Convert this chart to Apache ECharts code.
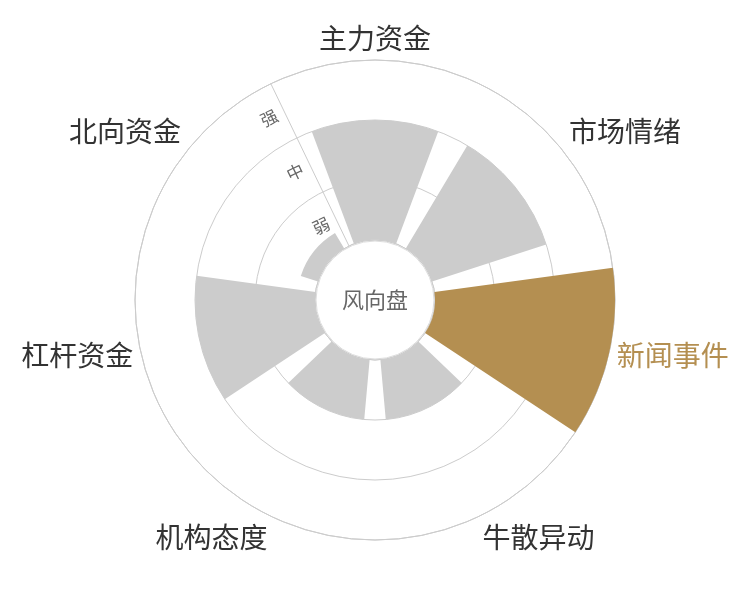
<!DOCTYPE html>
<html>
<head>
<meta charset="utf-8">
<script src="https://cdn.jsdelivr.net/npm/echarts@6/dist/echarts.min.js"></script>
<style>html,body{margin:0;padding:0;background:#fff}#c{width:750px;height:600px}</style>
</head>
<body>
<div id="c"></div>
<script>
var categories = ['主力资金', '市场情绪', '新闻事件', '牛散异动', '机构态度', '杠杆资金', '北向资金'];
var values = [2, 2, 3, 1, 1, 2, 0.3];
var highlightName = '新闻事件';
var levelLabels = ['弱', '中', '强'];
var centerText = '风向盘';

var FONT = 'Noto Sans CJK SC';
var chart = echarts.init(document.getElementById('c'));
var n = categories.length;
var startAngle = 90 + 180 / n;

chart.setOption({
  backgroundColor: '#fff',
  animation: false,
  polar: { center: ['50%', '50%'], radius: [60, 240] },
  angleAxis: {
    type: 'category',
    data: categories,
    startAngle: startAngle,
    boundaryGap: true,
    axisLine: { show: true, lineStyle: { color: '#cccccc', width: 1 } },
    axisTick: { show: false },
    splitLine: { show: false },
    axisLabel: {
      margin: 8,
      fontSize: 28,
      fontFamily: FONT,
      color: '#333333',
      formatter: function (v) { return v === highlightName ? '{hl|' + v + '}' : v; },
      rich: { hl: { color: '#b48f51', fontSize: 28, fontFamily: FONT } }
    }
  },
  radiusAxis: {
    type: 'value',
    min: 0,
    max: levelLabels.length,
    interval: 0.5,
    axisLine: { show: true, lineStyle: { color: '#cccccc', width: 1 } },
    axisTick: { show: false },
    splitLine: { show: true, lineStyle: { color: ['#cccccc', 'rgba(0,0,0,0)'], width: 1 } },
    axisLabel: {
      rotate: startAngle - 90,
      fontSize: 17,
      fontFamily: FONT,
      color: '#666666',
      formatter: function (v) {
        var i = Math.floor(v);
        return (v - i) > 0.25 && i < levelLabels.length ? levelLabels[i] : '';
      }
    }
  },
  series: [
    {
      type: 'bar',
      coordinateSystem: 'polar',
      barCategoryGap: '20%',
      silent: true,
      z: 3,
      data: values.map(function (v, i) {
        return { value: v, itemStyle: { color: categories[i] === highlightName ? '#b48f51' : '#cccccc' } };
      })
    },
    {
      type: 'pie',
      radius: [0, 59],
      center: ['50%', '50%'],
      silent: true,
      z: 5,
      itemStyle: { color: '#ffffff', borderColor: '#dddddd', borderWidth: 1 },
      label: { show: true, position: 'center', formatter: '{b}', fontSize: 22, fontFamily: FONT, color: '#666666' },
      labelLine: { show: false },
      data: [{ value: 1, name: centerText }]
    }
  ]
});
</script>
</body>
</html>
